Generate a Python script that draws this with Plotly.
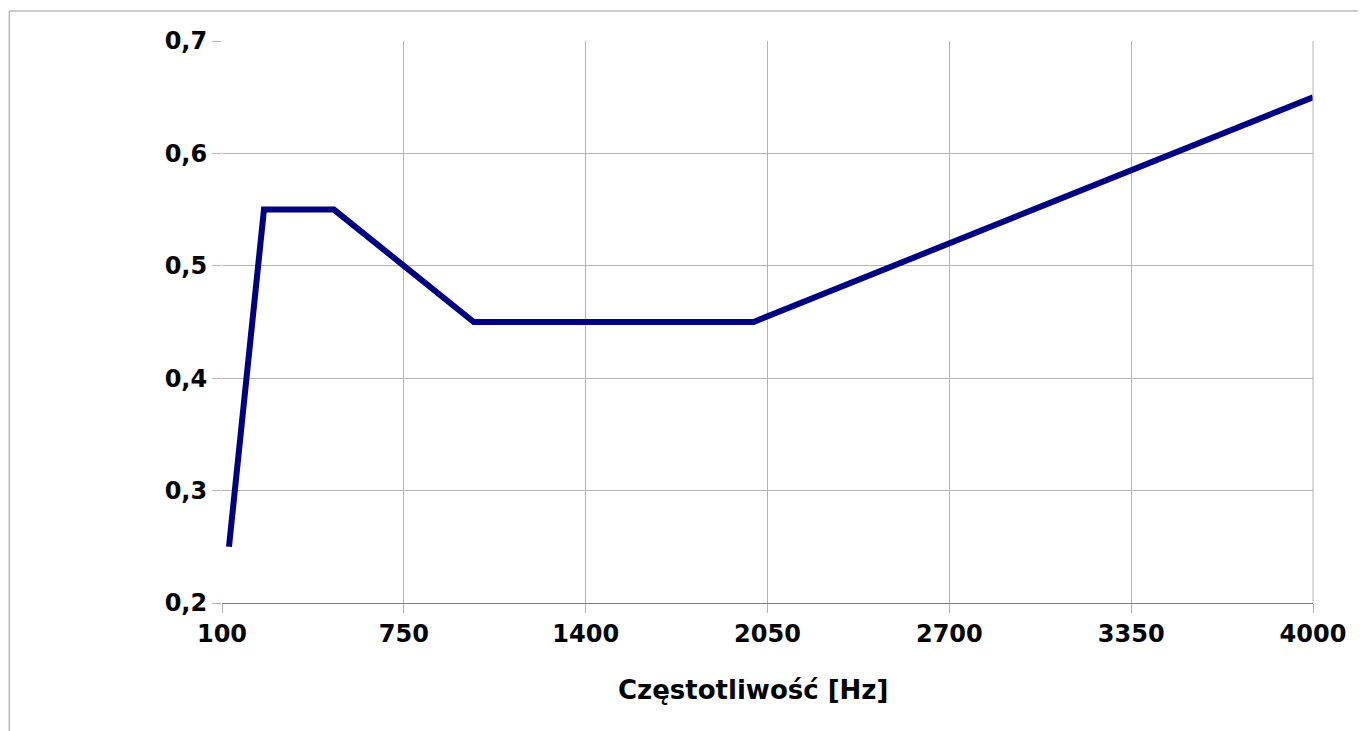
import plotly.graph_objects as go

freq = [125, 250, 500, 1000, 2000, 4000]
alpha = [0.25, 0.55, 0.55, 0.45, 0.45, 0.65]
x_ticks = [100, 750, 1400, 2050, 2700, 3350, 4000]
y_ticks = [0.2, 0.3, 0.4, 0.5, 0.6, 0.7]
x_title = "Częstotliwość [Hz]"

fig = go.Figure()
fig.add_trace(go.Scatter(x=freq, y=alpha, mode="lines",
                         line=dict(color="#000080", width=6), showlegend=False))

font_family = "DejaVu Sans, Liberation Sans, sans-serif"
fig.update_layout(
    width=1358, height=723,
    margin=dict(l=214, r=53, t=33, b=128),
    paper_bgcolor="white", plot_bgcolor="white",
    separators=",.",
    font=dict(family=font_family, color="black"),
    xaxis=dict(range=[100, 4000], tickvals=x_ticks, ticktext=[str(v) for v in x_ticks],
               showgrid=True, gridcolor="#b3b3b3", gridwidth=1,
               ticks="outside", ticklen=9, tickcolor="#b3b3b3",
               showline=True, linecolor="#808080", linewidth=1, mirror=False,
               tickfont=dict(size=24, family=font_family, weight="bold"),
               zeroline=False),
    yaxis=dict(range=[0.2, 0.7], tickvals=y_ticks, tickformat=".1f",
               showgrid=True, gridcolor="#b3b3b3", gridwidth=1,
               ticks="outside", ticklen=9, tickcolor="#b3b3b3",
               showline=False, zeroline=False,
               tickfont=dict(size=24, family=font_family, weight="bold")),
    annotations=[
        dict(text="<b>" + x_title + "</b>", xref="paper", yref="paper",
             x=0.4867, y=-0.155, xanchor="center", yanchor="middle", showarrow=False,
             font=dict(size=26, family=font_family, color="black")),
    ],
    shapes=[
        dict(type="line", xref="paper", yref="paper", x0=1, x1=1, y0=0, y1=1,
             line=dict(color="#b3b3b3", width=1)),
        dict(type="line", xref="paper", yref="paper", x0=-0.195, x1=1.1, y0=1.0534, y1=1.0534,
             line=dict(color="#999999", width=1)),
        dict(type="line", xref="paper", yref="paper", x0=-0.195, x1=-0.195, y0=-0.3, y1=1.0534,
             line=dict(color="#999999", width=1)),
    ],
)

fig.write_html("out.html")
